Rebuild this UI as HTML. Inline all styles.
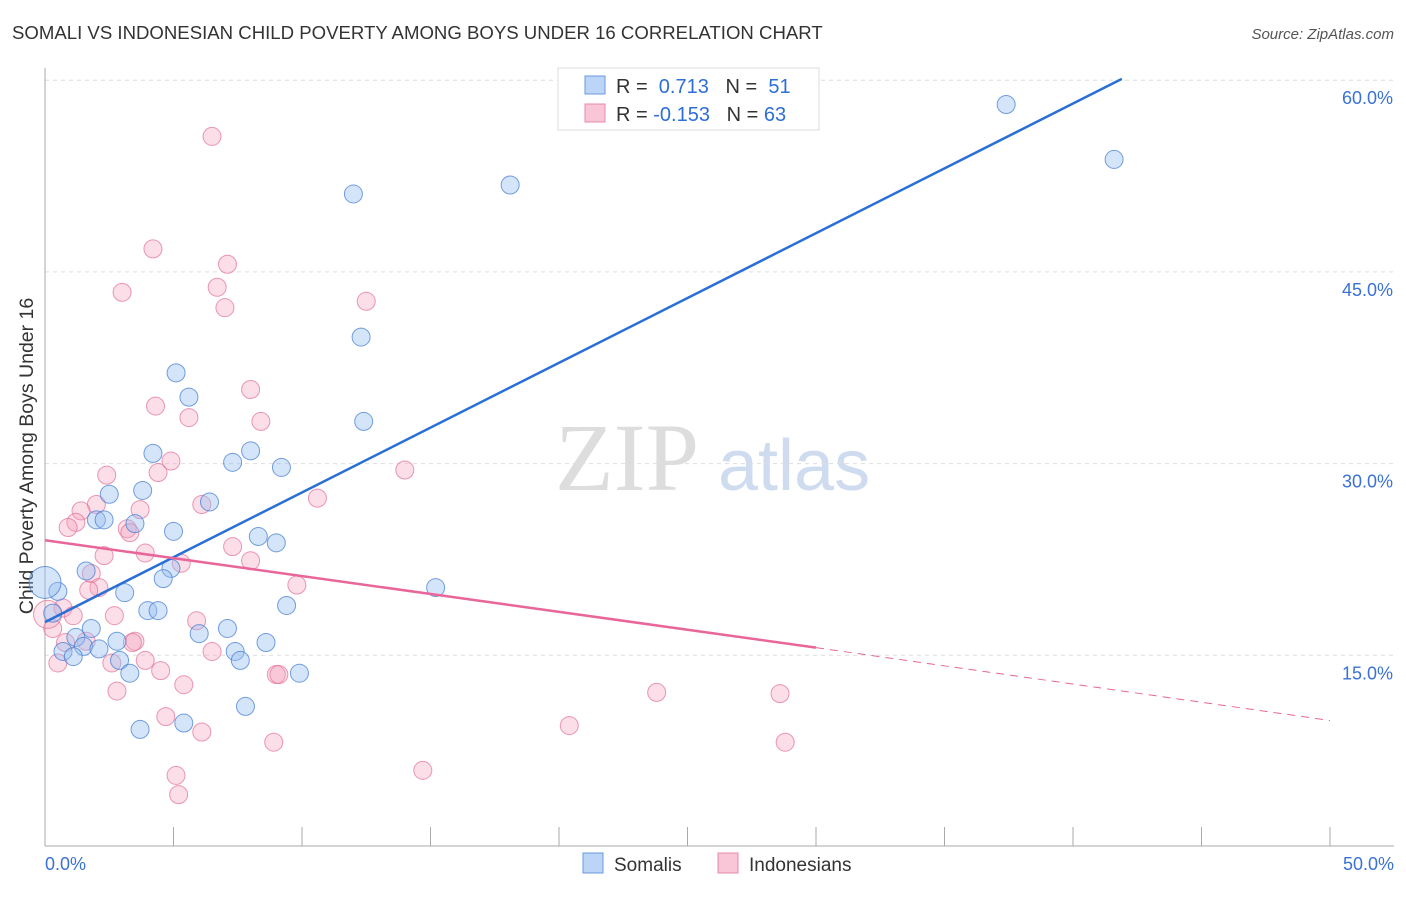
<!DOCTYPE html>
<html><head><meta charset="utf-8"><style>
body{margin:0;background:#fff;font-family:"Liberation Sans",sans-serif}
</style></head><body>
<svg id="c" width="1406" height="892" xmlns="http://www.w3.org/2000/svg">
<text x="12" y="39" font-size="18.6" fill="#333">SOMALI VS INDONESIAN CHILD POVERTY AMONG BOYS UNDER 16 CORRELATION CHART</text>
<text x="1394" y="39" font-size="15" fill="#555" text-anchor="end" font-style="italic">Source: ZipAtlas.com</text>
<text x="33" y="456" font-size="19.5" fill="#333" text-anchor="middle" transform="rotate(-90 33 456)">Child Poverty Among Boys Under 16</text>
<text x="555" y="490" font-size="96" fill="#ddd" font-family="Liberation Serif">ZIP</text>
<text x="718" y="490" font-size="72" fill="#cfdcf0">atlas</text>
<g id="grid"></g><g id="pts"></g><g id="lines"></g>
<g>
<rect x="558" y="68" width="261" height="62" fill="#fff" stroke="#ddd"/>
<rect x="585" y="76" width="20" height="18" fill="#bcd4f5" stroke="#6a9ae0"/>
<rect x="585" y="104" width="20" height="18" fill="#f8c6d6" stroke="#e88aa8"/>
<text x="616" y="93" font-size="20" fill="#333">R = <tspan fill="#2e6fd6">&#160;0.713</tspan>&#160;&#160;&#160;N = <tspan fill="#2e6fd6">&#160;51</tspan></text>
<text x="616" y="121" font-size="20" fill="#333">R = <tspan fill="#2e6fd6">-0.153</tspan>&#160;&#160;&#160;N = <tspan fill="#2e6fd6">63</tspan></text>
</g>
<g>
<rect x="583" y="853" width="20" height="20" fill="#bcd4f5" stroke="#6a9ae0"/>
<text x="614" y="871" font-size="19" fill="#333">Somalis</text>
<rect x="718" y="853" width="20" height="20" fill="#f8c6d6" stroke="#e88aa8"/>
<text x="749" y="871" font-size="19" fill="#333">Indonesians</text>
</g>
</svg>
<script>
const blueX=[37.4,41.6,18.1,12.0,12.3,12.4,5.1,5.6,4.2,8.0,7.3,9.2,3.8,2.5,6.4,2.0,2.3,3.5,5.0,8.3,9.0,4.9,4.6,1.6,3.1,0.5,15.2,9.4,4.0,4.4,1.8,7.1,6.0,8.6,1.2,1.5,2.8,2.1,0.7,1.1,7.4,7.6,2.9,3.3,9.9,7.8,3.7,5.4,0.0,0.3];
const blueY=[58.1,53.8,51.8,51.1,39.9,33.3,37.1,35.2,30.8,31.0,30.1,29.7,27.9,27.6,27.0,25.6,25.6,25.3,24.7,24.3,23.8,21.8,21.0,21.6,19.9,20.0,20.3,18.9,18.5,18.5,17.1,17.1,16.7,16.0,16.4,15.7,16.1,15.5,15.3,14.9,15.3,14.6,14.6,13.6,13.6,11.0,9.2,9.7,20.7,18.3];
const pinkX=[6.5,4.2,7.1,3.0,6.7,7.0,12.5,8.0,4.3,5.6,8.4,4.9,4.4,14.0,2.4,10.6,6.1,2.0,1.4,3.7,1.2,0.9,3.2,3.3,7.3,3.9,2.3,5.3,8.0,1.8,2.1,1.7,9.8,0.7,1.1,2.7,5.9,0.3,3.5,3.4,1.6,0.8,6.5,3.9,4.5,2.6,0.5,9.0,9.1,5.4,2.8,23.8,28.6,4.7,20.4,6.1,8.9,28.8,14.7,5.1,5.2,0.1];
const pinkY=[55.6,46.8,45.6,43.4,43.8,42.2,42.7,35.8,34.5,33.6,33.3,30.2,29.3,29.5,29.1,27.3,26.8,26.8,26.3,26.4,25.4,25.0,24.9,24.6,23.5,23.0,22.8,22.2,22.4,21.4,20.3,20.1,20.5,18.7,18.1,18.1,17.7,17.1,16.1,16.0,16.1,16.0,15.3,14.6,13.8,14.4,14.4,13.5,13.5,12.7,12.2,12.1,12.0,10.2,9.5,9.0,8.2,8.2,6.0,5.6,4.1,18.2];
const blueLine=[[0,17.6],[41.9,60.1]];
const pinkLine=[[0,24.0],[30,15.6]];
const pinkDash=[[30,15.6],[50,9.9]];
const yTicks=[15,30,45,60];
const xTicks=[0,5,10,15,20,25,30,35,40,45,50];
const NS='http://www.w3.org/2000/svg';
const sx=v=>45+v*25.7, sy=v=>847-v*12.78;
function mk(t,a,p){const e=document.createElementNS(NS,t);for(const k in a)e.setAttribute(k,a[k]);p.appendChild(e);return e;}
const g=document.getElementById('grid');
yTicks.forEach(v=>{
 const l=mk('line',{x1:45,x2:1394,y1:sy(v),y2:sy(v),stroke:'#ddd','stroke-dasharray':'4,4'},g);
 
 
 const t=mk('text',{x:1393,y:sy(v)+24,'font-size':18,fill:'#3a72d4','text-anchor':'end'},g);t.textContent=v.toFixed(1)+'%';
 
 
});
mk('line',{x1:45,x2:45,y1:68,y2:846,stroke:'#aaa'},g);
mk('line',{x1:45,x2:1394,y1:846,y2:846,stroke:'#aaa'},g);
xTicks.forEach(v=>{const l=mk('line',{x1:sx(v),x2:sx(v),y1:827,y2:846,stroke:'#aaa'},g);
 
 });
[[0,'0.0%','start',45],[50,'50.0%','end',1394]].forEach(([v,s,a,x])=>{const t=mk('text',{x:x,y:870,'font-size':18,fill:'#3a72d4','text-anchor':a},g);t.textContent=s;
 
 });
const p=document.getElementById('pts');
function dots(X,Y,f,s,n){X.forEach((x,i)=>{const big=(x===0&&n==='somali-point')||(x===0.1&&n==='indonesian-point');
 const r=big?(n==='somali-point'?16:14):9;
 const c=mk('circle',{cx:sx(x),cy:sy(Y[i]),r:r,fill:big&&n!=='somali-point'?'rgba(244,160,188,0.25)':f,stroke:s,'stroke-width':1},p);
 
 });}
dots(pinkX,pinkY,'rgba(244,160,188,0.35)','rgba(226,110,150,0.7)','indonesian-point');
dots(blueX,blueY,'rgba(150,190,240,0.4)','rgba(60,120,210,0.7)','somali-point');
const L=document.getElementById('lines');
function line(d,c,w,da,n){const e=mk('line',{x1:sx(d[0][0]),y1:sy(d[0][1]),x2:sx(d[1][0]),y2:sy(d[1][1]),stroke:c,'stroke-width':w},L);if(da)e.setAttribute('stroke-dasharray',da);
 
 }
line(blueLine,'#2a6fd6',2.5,null,'somali-trendline');
line(pinkLine,'#e8669a',2.5,null,'indonesian-trendline');
line(pinkDash,'#e8669a',1,'8,6','indonesian-trendline-extension');
</script>
</body></html>
